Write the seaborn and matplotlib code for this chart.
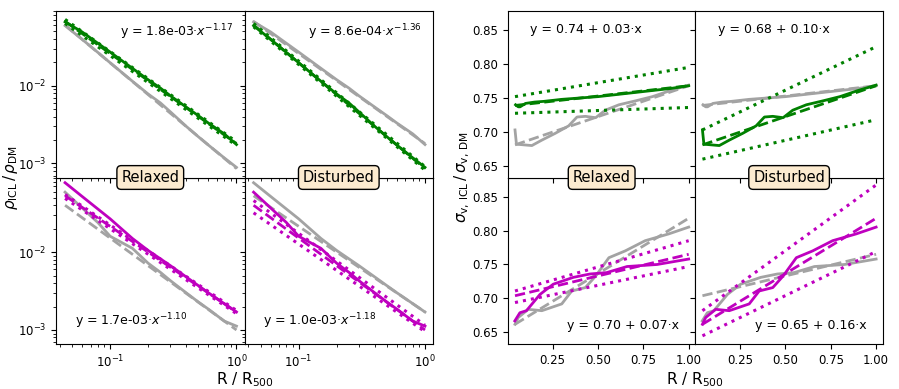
import numpy as np
import pandas as pd
import matplotlib
matplotlib.use("Agg")
import matplotlib.pyplot as plt
import seaborn as sns

# ---- density ratio profiles (log-log panels) ----
r_log = [0.044, 0.06, 0.08, 0.1, 0.15, 0.2, 0.25, 0.3, 0.4, 0.5, 0.6, 0.8, 1.0]
rho_rel_icl = [0.066, 0.049, 0.035, 0.027, 0.0167, 0.0119, 0.0093, 0.0074, 0.0053, 0.0041, 0.0033, 0.0024, 0.00175]
rho_dis_icl = [0.059, 0.0394, 0.0267, 0.0197, 0.0114, 0.0078, 0.0060, 0.0046, 0.0030, 0.0022, 0.00172, 0.00118, 0.00089]
rho_rel_icl2 = [0.078, 0.052, 0.0358, 0.0268, 0.0150, 0.0105, 0.0082, 0.0067, 0.0048, 0.0037, 0.0030, 0.00218, 0.0017]
rho_dis_icl2 = [0.059, 0.037, 0.024, 0.0160, 0.0112, 0.0072, 0.0055, 0.0043, 0.0030, 0.00228, 0.00185, 0.0013, 0.00112]

r_fit = [0.044, 1.0]
# fit, upper, lower (end points of power laws)
rho_fit_rel = [[0.067, 0.0018], [0.071, 0.0019], [0.063, 0.0017]]
rho_fit_dis = [[0.060, 0.00086], [0.063, 0.00091], [0.057, 0.00082]]
rho_fit_rel2 = [[0.053, 0.0017], [0.055, 0.00178], [0.049, 0.00162]]
rho_fit_dis2 = [[0.040, 0.0010], [0.046, 0.00115], [0.032, 0.00095]]
rho_labels = ['y = 1.8e-03·$x^{-1.17}$', 'y = 8.6e-04·$x^{-1.36}$',
              'y = 1.7e-03·$x^{-1.10}$', 'y = 1.0e-03·$x^{-1.18}$']

# ---- velocity dispersion ratio profiles (linear panels) ----
r_rel_g = [0.045, 0.06, 0.07, 0.1, 0.15, 0.2, 0.3, 0.4, 0.5, 0.6, 0.7, 0.8, 0.9, 1.0]
sig_rel_g = [0.740, 0.737, 0.737, 0.742, 0.744, 0.745, 0.748, 0.750, 0.752, 0.755, 0.758, 0.761, 0.764, 0.768]
r_dis_g = [0.042, 0.05, 0.135, 0.19, 0.264, 0.338, 0.384, 0.43, 0.487, 0.54, 0.615, 0.71, 0.80, 0.90, 1.0]
sig_dis_g = [0.703, 0.682, 0.680, 0.688, 0.698, 0.709, 0.722, 0.723, 0.721, 0.732, 0.740, 0.746, 0.752, 0.761, 0.769]
r_rel_m = [0.041, 0.069, 0.105, 0.18, 0.253, 0.363, 0.455, 0.547, 0.66, 0.826, 1.0]
sig_rel_m = [0.667, 0.679, 0.682, 0.706, 0.721, 0.731, 0.736, 0.738, 0.747, 0.750, 0.758]
r_dis_m = [0.042, 0.06, 0.115, 0.19, 0.245, 0.30, 0.355, 0.43, 0.487, 0.56, 0.65, 0.76, 0.89, 1.0]
sig_dis_m = [0.662, 0.672, 0.684, 0.682, 0.687, 0.692, 0.711, 0.716, 0.733, 0.760, 0.770, 0.785, 0.795, 0.805]

r_lin_fit = [0.042, 1.0]
sig_fit_rel_g = [[0.739, 0.768], [0.752, 0.795], [0.7275, 0.736]]
sig_fit_dis_g = [[0.681, 0.768], [0.703, 0.8255], [0.660, 0.718]]
sig_fit_rel_m = [[0.704, 0.765], [0.711, 0.785], [0.694, 0.747]]
sig_fit_dis_m = [[0.662, 0.818], [0.682, 0.867], [0.645, 0.769]]
sig_labels = ['y = 0.74 + 0.03·x', 'y = 0.68 + 0.10·x',
              'y = 0.70 + 0.07·x', 'y = 0.65 + 0.16·x']

GREEN = '#008000'
MAG = '#bf00bf'
GREY = '#a3a3a3'


def draw(ax, x, y, col, ls='-', lw=2.0):
    sns.lineplot(x=x, y=y, ax=ax, color=col, linestyle=ls, lw=lw, sort=False, estimator=None)


def panel(ax, x, y, xf, fit, col, gx, gy, gfit):
    draw(ax, gx, gy, GREY)
    draw(ax, xf, gfit[0], GREY, '--')
    draw(ax, x, y, col)
    draw(ax, xf, fit[0], col, '--')
    draw(ax, xf, fit[1], col, ':', 2.2)
    draw(ax, xf, fit[2], col, ':', 2.2)


fig = plt.figure(figsize=(8.99, 3.89), dpi=100)
gl = fig.add_gridspec(2, 2, left=0.0623, right=0.4817, top=0.9717, bottom=0.1157, hspace=0, wspace=0)
gr = fig.add_gridspec(2, 2, left=0.565, right=0.982, top=0.9717, bottom=0.1157, hspace=0, wspace=0)
axl = gl.subplots(sharex=True, sharey=True)
axr = gr.subplots(sharex=True, sharey=True)

# left grid
panel(axl[0, 0], r_log, rho_rel_icl, r_fit, rho_fit_rel, GREEN, r_log, rho_dis_icl, rho_fit_dis)
panel(axl[0, 1], r_log, rho_dis_icl, r_fit, rho_fit_dis, GREEN, r_log, rho_rel_icl, rho_fit_rel)
panel(axl[1, 0], r_log, rho_rel_icl2, r_fit, rho_fit_rel2, MAG, r_log, rho_dis_icl2, rho_fit_dis2)
panel(axl[1, 1], r_log, rho_dis_icl2, r_fit, rho_fit_dis2, MAG, r_log, rho_rel_icl2, rho_fit_rel2)
for ax in axl.flat:
    ax.set_xscale('log')
    ax.set_yscale('log')
axl[0, 0].set_xlim(0.0373, 1.158)
axl[0, 0].set_ylim(6.6e-4, 0.091)

# right grid
panel(axr[0, 0], r_rel_g, sig_rel_g, r_lin_fit, sig_fit_rel_g, GREEN, r_dis_g, sig_dis_g, sig_fit_dis_g)
panel(axr[0, 1], r_dis_g, sig_dis_g, r_lin_fit, sig_fit_dis_g, GREEN, r_rel_g, sig_rel_g, sig_fit_rel_g)
panel(axr[1, 0], r_rel_m, sig_rel_m, r_lin_fit, sig_fit_rel_m, MAG, r_dis_m, sig_dis_m, sig_fit_dis_m)
panel(axr[1, 1], r_dis_m, sig_dis_m, r_lin_fit, sig_fit_dis_m, MAG, r_rel_m, sig_rel_m, sig_fit_rel_m)
axr[0, 0].set_xlim(0.003, 1.037)
axr[0, 0].set_ylim(0.633, 0.878)
axr[0, 0].set_xticks([0.25, 0.5, 0.75, 1.0])
axr[0, 0].set_yticks([0.65, 0.70, 0.75, 0.80, 0.85])

for axs in (axl, axr):
    for ax in axs.flat:
        ax.tick_params(labelsize=8.5)
        ax.set_xlabel('')
        ax.set_ylabel('')
    for j, name in enumerate(['Relaxed', 'Disturbed']):
        axs[0, j].set_zorder(3)
        axs[0, j].text(0.5, 0.0, name, transform=axs[0, j].transAxes, ha='center', va='center',
                       fontsize=10.5, zorder=10, clip_on=False,
                       bbox=dict(boxstyle='round,pad=0.3', facecolor='#fcebd0', edgecolor='black'))

for k, ax in enumerate(axl.flat):
    if k < 2:
        ax.text(0.94, 0.875, rho_labels[k], transform=ax.transAxes, ha='right', va='center', fontsize=9)
    else:
        ax.text(0.10, 0.135, rho_labels[k], transform=ax.transAxes, ha='left', va='center', fontsize=9)
for k, ax in enumerate(axr.flat):
    if k < 2:
        ax.text(0.12, 0.89, sig_labels[k], transform=ax.transAxes, ha='left', va='center', fontsize=9)
    else:
        ax.text(0.915, 0.114, sig_labels[k], transform=ax.transAxes, ha='right', va='center', fontsize=9)

fig.text(0.012, 0.544, r'$\rho_{\rm ICL}\,/\,\rho_{\rm DM}$', rotation=90, ha='center', va='center', fontsize=11)
fig.text(0.514, 0.544, r'$\sigma_{\rm v,\,ICL}\,/\,\sigma_{\rm v,\,DM}$', rotation=90, ha='center', va='center', fontsize=11)
fig.text(0.272, 0.024, r'R / R$_{500}$', ha='center', va='center', fontsize=11)
fig.text(0.7735, 0.024, r'R / R$_{500}$', ha='center', va='center', fontsize=11)

fig.savefig('out.png', dpi=100)
